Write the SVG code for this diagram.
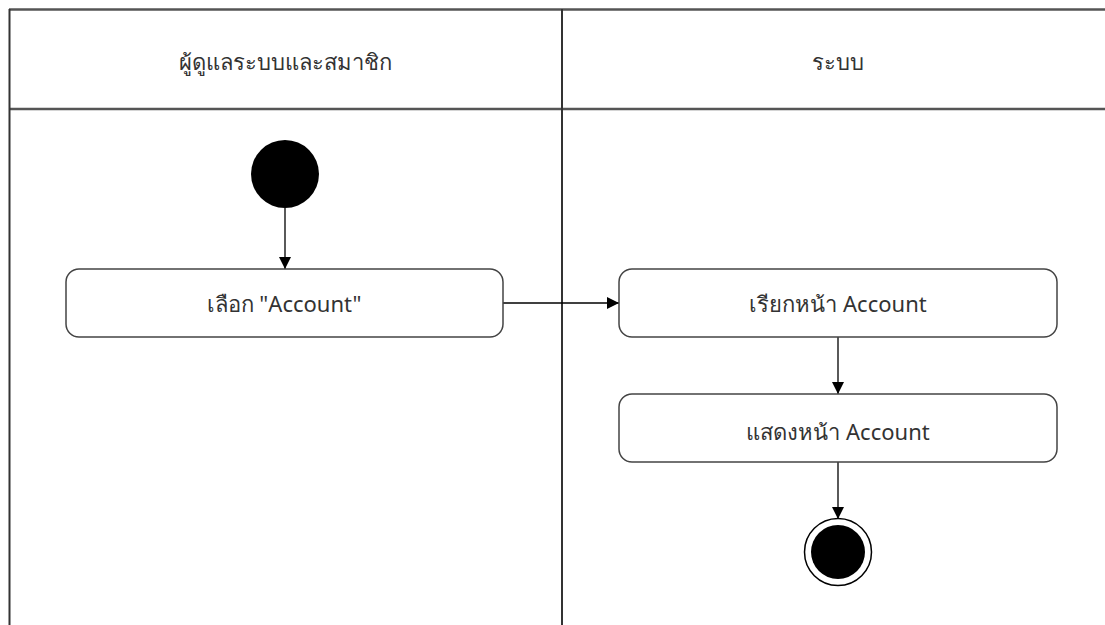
<svg xmlns="http://www.w3.org/2000/svg" width="1105" height="625" viewBox="0 0 1105 625">
<defs>
<style>
.lane{stroke:#333;stroke-width:2;fill:none}
.sep{stroke:#555;stroke-width:2.5;fill:none}
.box{fill:#fff;stroke:#444;stroke-width:1.5}
.t{font-family:"Noto Sans","DejaVu Sans",Tahoma,sans-serif;font-size:22px;fill:#333;text-anchor:middle}
.edge{stroke:#000;stroke-width:1.3;fill:none;marker-end:url(#arr)}
</style>
<marker id="arr" viewBox="0 0 12 12" refX="12" refY="6" markerWidth="12" markerHeight="12" markerUnits="userSpaceOnUse" orient="auto">
<path d="M0,0 L12,6 L0,12 Z" fill="#000"/>
</marker>
</defs>
<rect width="1105" height="625" fill="#fff"/>
<g id="lanes">
<line class="sep" x1="9" y1="9.5" x2="1105" y2="9.5"/>
<line class="sep" x1="9" y1="109" x2="1105" y2="109"/>
<line class="lane" x1="9.5" y1="9" x2="9.5" y2="625"/>
<line class="lane" x1="562" y1="9" x2="562" y2="625"/>
<text class="t" x="285" y="70">ผู้ดูแลระบบและสมาชิก</text>
<text class="t" x="838" y="70">ระบบ</text>
</g>
<g id="connectors">
<line class="edge" x1="285" y1="208" x2="285" y2="269"/>
<line class="edge" x1="503" y1="303" x2="619" y2="303"/>
<line class="edge" x1="838" y1="337" x2="838" y2="394"/>
<line class="edge" x1="838" y1="462" x2="838" y2="519"/>
</g>
<g id="start"><circle cx="285" cy="174" r="34" fill="#000"/></g>
<g id="n1"><rect class="box" x="66" y="269" width="437" height="68" rx="13"/><text class="t" x="284" y="312">เลือก "Account"</text></g>
<g id="n2"><rect class="box" x="619" y="269" width="438" height="68" rx="13"/><text class="t" x="838" y="312">เรียกหน้า Account</text></g>
<g id="n3"><rect class="box" x="619" y="394" width="438" height="68" rx="13"/><text class="t" x="838" y="440">แสดงหน้า Account</text></g>
<g id="end"><circle cx="838" cy="552" r="33.5" fill="#fff" stroke="#000" stroke-width="1.5"/><circle cx="838" cy="552" r="27" fill="#000"/></g>
</svg>
